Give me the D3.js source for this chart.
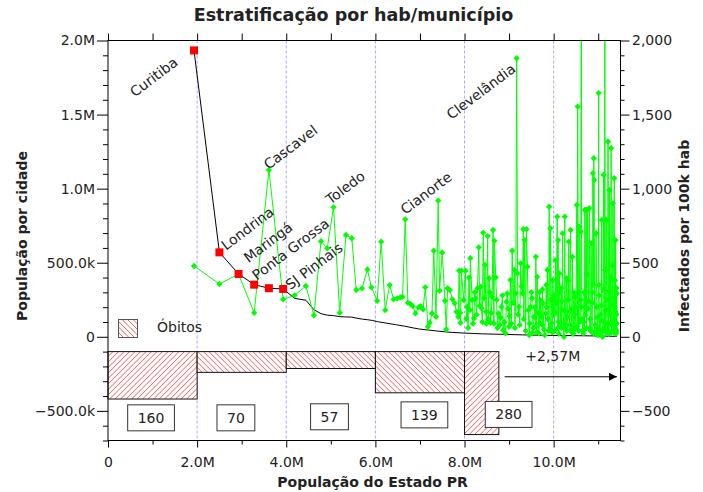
<!DOCTYPE html>
<html>
<head>
<meta charset="utf-8">
<script src="https://cdn.jsdelivr.net/npm/d3@7"></script>
<style>
  body { margin: 0; background: #fff; }
  text { font-family: "DejaVu Sans", sans-serif; fill: #222; }
</style>
</head>
<body>
<div id="chart"></div>
<script>
/********************** dados lidos do gráfico **********************/
// população acumulada (M) x população da cidade (k), cidades em ordem decrescente
var popCidade = [
  [1.93,1933],[2.50,570],[2.93,424],[3.28,352],[3.61,328],[3.93,323],[4.19,259],[4.44,247],
  [4.62,183],[4.78,156],[4.92,146],[5.06,143],[5.20,136],[5.33,134],[5.47,133],[5.59,125],
  [5.71,119],[5.83,115],[5.94,110],[6.05,102],[6.25,92],[6.45,82],[6.65,72],[6.85,60],
  [6.97,53],[7.2,45],[7.45,37],[7.7,30],[8.0,25],[8.4,20],[8.8,17],[9.3,13],[9.8,10],
  [10.4,8],[10.9,6],[11.42,3]
];
var nDestaques = 6;   // cidades com quadrado vermelho

// população acumulada (M) x infectados por 100k hab
var infectados = [
  [1.93,478],[2.50,356],[2.93,423],[3.28,162],[3.61,1126],[3.93,253],[4.19,280],[4.44,343],
  [4.62,145],[4.78,645],[4.92,597],[5.06,874],[5.20,162],[5.34,687],[5.47,665],[5.57,316],
  [5.70,327],[5.82,455],[5.91,334],[6.04,243],[6.13,642],[6.22,180],[6.32,349],[6.41,253],
  [6.49,259],[6.56,266],[6.61,270],[6.67,793],[6.73,230],[6.79,221],[6.84,207],[6.90,158],
  [6.97,199],[7.01,207],[7.07,185],[7.12,334],[7.18,68],[7.22,95],[7.27,158],[7.31,581],
  [7.36,135],[7.41,919],[7.44,311],[7.50,568],[7.56,243],[7.59,50],[7.62,327],[7.67,316],
  [7.73,253],[7.78,226],[7.82,169],[7.86,135],[7.88,446],[7.90,162],[7.91,95],[7.93,446],
  [7.98,248],[8.02,446],[8.04,120],[8.06,203],[8.08,60],[8.10,401],[8.12,180],[8.13,530],
  [8.17,248],[8.19,90],[8.21,124],[8.23,300],[8.25,259],[8.27,150],[8.29,327],[8.32,604],
  [8.34,210],[8.36,338],[8.38,192],[8.40,100],[8.42,703],[8.44,260],[8.46,485],[8.48,170],
  [8.49,90],[8.52,680],[8.53,120],[8.55,395],[8.57,300],[8.58,95],[8.60,160],[8.62,270],
  [8.64,721],[8.66,90],[8.67,649],[8.70,401],[8.72,250],[8.74,60],[8.76,158],[8.79,79],
  [8.81,130],[8.83,203],[8.85,280],[8.87,45],[8.89,100],[8.92,23],[8.94,236],[8.96,293],
  [8.98,190],[9.00,68],[9.01,140],[9.03,383],[9.05,90],[9.07,581],[9.09,230],[9.12,451],
  [9.13,60],[9.15,293],[9.17,1881],[9.19,428],[9.20,150],[9.22,203],[9.24,80],[9.26,496],
  [9.28,340],[9.30,293],[9.32,726],[9.33,120],[9.35,653],[9.37,40],[9.39,726],[9.41,473],
  [9.43,180],[9.45,11],[9.46,90],[9.48,203],[9.50,300],[9.52,27],[9.54,60],[9.56,135],
  [9.58,200],[9.60,540],[9.62,30],[9.63,405],[9.65,160],[9.67,23],[9.69,90],[9.71,248],
  [9.73,135],[9.75,320],[9.76,226],[9.78,50],[9.80,11],[9.82,158],[9.84,200],[9.86,451],
  [9.90,878],[9.92,60],[9.93,732],[9.95,250],[9.96,90],[9.98,383],[10.00,150],[10.02,40],
  [10.04,518],[10.06,230],[10.08,811],[10.10,653],[10.11,100],[10.13,428],[10.14,300],
  [10.16,90],[10.18,60],[10.20,698],[10.21,180],[10.23,0],[10.25,811],[10.27,120],[10.29,395],
  [10.30,40],[10.31,135],[10.33,250],[10.34,642],[10.36,80],[10.38,721],[10.40,190],
  [10.42,540],[10.44,20],[10.46,45],[10.47,150],[10.48,270],[10.50,60],[10.52,890],
  [10.54,1554],[10.55,300],[10.57,743],[10.59,100],[10.61,709],[10.62,2500],[10.63,200],
  [10.65,40],[10.67,23],[10.68,300],[10.70,856],[10.72,150],[10.73,856],[10.74,60],
  [10.76,856],[10.78,240],[10.80,868],[10.82,120],[10.84,631],[10.86,30],[10.88,1104],
  [10.89,350],[10.90,1205],[10.91,1059],[10.93,80],[10.95,699],[10.97,200],[10.99,11],
  [11.00,60],[11.01,1645],[11.02,280],[11.04,23],[11.06,150],[11.08,789],[11.09,40],
  [11.10,0],[11.11,320],[11.12,1093],[11.13,100],[11.15,2600],[11.16,30],[11.18,789],
  [11.19,250],[11.20,60],[11.22,1318],[11.23,180],[11.24,20],[11.25,991],[11.27,400],
  [11.28,90],[11.29,1273],[11.31,40],[11.32,260],[11.33,901],[11.34,120],[11.35,30],
  [11.36,1070],[11.37,200],[11.38,60],[11.39,653],[11.40,45],[11.41,150],[11.42,293],
  // pontos baixos extras da parte densa do final
  [9.87,120],[9.97,30],[10.05,160],[10.12,20],[10.19,240],[10.26,60],[10.35,170],[10.41,30],
  [10.49,200],[10.56,40],[10.64,120],[10.69,50],[10.77,190],[10.83,40],[10.87,230],[10.92,20],
  [10.98,130],[11.03,50],[11.07,210],[11.14,60],[11.17,180],[11.21,30],[11.26,150],[11.30,80],
  [11.335,220],[11.365,40],[11.385,170],[11.405,30],[11.415,90],
  [9.515,260],[9.595,70],[9.685,300],[9.745,80],[9.835,350],[9.885,40],[10.015,280],[10.095,60],
  [10.175,330],[10.245,90],[10.325,380],[10.395,50],[10.455,300],[10.535,70],[10.605,250],
  [10.675,100],[10.745,420],[10.815,60],[10.875,300],[10.945,40],[11.015,350],[11.085,110],
  [11.155,450],[11.215,90],[11.255,310],[11.295,30],[11.325,480],[11.355,100],[11.375,380],
  [11.395,20],[11.412,330]
];

// nomes das cidades e posição do rótulo (M, M no eixo esquerdo)
var cidadeNomes  = ["Curitiba","Londrina","Maringá","Ponta Grossa","Cascavel","SJ Pinhais","Toledo","Cianorte","Clevelândia"];
var cidadeLabelX = [0.60, 2.65, 3.15, 3.34, 3.60, 4.09, 4.99, 6.67, 7.70];
var cidadeLabelY = [1.615, 0.581, 0.496, 0.378, 1.126, 0.315, 0.890, 0.822, 1.463];

// óbitos por faixa de população do estado
var faixaInicio = [0, 2e6, 4e6, 6e6, 8e6];
var faixaFim    = [2e6, 4e6, 6e6, 8e6, 8.77e6];
var obitos      = [160, 70, 57, 139, 280];
var hachura     = ["/", "\\", "\\", "\\", "/"];
var obitoLabelX = [0.966e6, 2.87e6, 4.97e6, 7.10e6, 8.99e6];
var obitoLabelY = [-547e3, -547e3, -540e3, -527e3, -524e3];
var restante    = "+2,57M";

// eixos
var xTicks  = [0, 2e6, 4e6, 6e6, 8e6, 10e6];
var xLabels = ["0","2.0M","4.0M","6.0M","8.0M","10.0M"];
var yLeftTicks  = [-500e3, 0, 500e3, 1e6, 1.5e6, 2e6];
var yLeftLabels = ["\u2212500.0k","0","500.0k","1.0M","1.5M","2.0M"];
var yRightTicks  = [-500, 0, 500, 1000, 1500, 2000];
var yRightLabels = ["\u2212500","0","500","1,000","1,500","2,000"];
var divisorias = [2e6, 4e6, 6e6, 8e6, 10e6];

/********************** desenho **********************/
var W = 703, H = 492;
var M = {left: 108, right: 620.5, top: 40.5, bottom: 440.5};
var obitoBase = -100e3, obitoEscala = 2000;

var svg = d3.select("#chart").append("svg")
    .attr("width", W).attr("height", H)
    .style("background", "#fff");

var x  = d3.scaleLinear().domain([0, 11.5e6]).range([M.left, M.right]);
var yL = d3.scaleLinear().domain([-700e3, 2e6]).range([M.bottom, M.top]);
var yR = d3.scaleLinear().domain([-700, 2000]).range([M.bottom, M.top]);

var defs = svg.append("defs");
defs.append("clipPath").attr("id", "area")
  .append("rect").attr("x", M.left).attr("y", M.top)
  .attr("width", M.right - M.left).attr("height", M.bottom - M.top);

// hachura desenhada com linhas recortadas pelo retângulo
function hachurado(parent, id, x0, y0, w, h, dir, borda) {
  defs.append("clipPath").attr("id", id)
    .append("rect").attr("x", x0).attr("y", y0).attr("width", w).attr("height", h);
  var g = parent.append("g").attr("clip-path", "url(#" + id + ")");
  g.append("rect").attr("x", x0).attr("y", y0).attr("width", w).attr("height", h).attr("fill", "#fff");
  var passos = d3.range(-h - 6, w + 6, 5.5);
  g.selectAll("line").data(passos).enter().append("line")
    .attr("x1", function(k) { return x0 + k; })
    .attr("x2", function(k) { return x0 + k + h; })
    .attr("y1", dir == "/" ? y0 + h : y0)
    .attr("y2", dir == "/" ? y0 : y0 + h)
    .attr("stroke", "#ff3030").attr("stroke-width", 0.8);
  parent.append("rect").attr("x", x0).attr("y", y0).attr("width", w).attr("height", h)
    .attr("fill", "none").attr("stroke", borda).attr("stroke-width", 1);
}

// linhas verticais tracejadas
svg.append("g").selectAll("line").data(divisorias).enter().append("line")
  .attr("x1", x).attr("x2", x).attr("y1", M.top).attr("y2", M.bottom)
  .attr("stroke", "#a8a8ff").attr("stroke-width", 1).attr("stroke-dasharray", "3,2");

// barras de óbitos
var gBarras = svg.append("g");
obitos.forEach(function(d, i) {
  var x0 = x(faixaInicio[i]), x1 = x(faixaFim[i]);
  var y0 = yL(obitoBase), y1 = yL(obitoBase - d * obitoEscala);
  hachurado(gBarras, "barra" + i, x0, y0, x1 - x0, y1 - y0, hachura[i], "#111");
});

// caixas com número de óbitos
var caixas = svg.append("g").selectAll("g").data(obitos).enter().append("g");
caixas.append("text")
  .attr("x", function(d, i) { return x(obitoLabelX[i]); })
  .attr("y", function(d, i) { return yL(obitoLabelY[i]); })
  .attr("text-anchor", "middle").attr("dominant-baseline", "central")
  .style("font-size", "14px")
  .text(function(d) { return d; });
caixas.each(function() {
  var g = d3.select(this), b = g.select("text").node().getBBox();
  g.insert("rect", "text")
    .attr("x", b.x - 10).attr("y", b.y - 5)
    .attr("width", b.width + 20).attr("height", b.height + 10)
    .attr("fill", "#fff").attr("stroke", "#333").attr("stroke-width", 1);
});

// seta do restante da população
defs.append("marker").attr("id", "seta").attr("viewBox", "0 0 10 10")
  .attr("refX", 10).attr("refY", 5).attr("markerWidth", 8).attr("markerHeight", 8)
  .attr("orient", "auto").attr("markerUnits", "userSpaceOnUse")
  .append("path").attr("d", "M0,0 L10,5 L0,10 z").attr("fill", "#000");
svg.append("line")
  .attr("x1", x(8.9e6)).attr("x2", x(11.42e6))
  .attr("y1", yL(-270e3)).attr("y2", yL(-270e3))
  .attr("stroke", "#000").attr("stroke-width", 1).attr("marker-end", "url(#seta)");
svg.append("text")
  .attr("x", x(9.98e6)).attr("y", yL(-162e3))
  .attr("text-anchor", "middle").style("font-size", "14px")
  .text(restante);

// linha preta: população por cidade
var linhaPop = d3.line()
  .x(function(d) { return x(d[0] * 1e6); })
  .y(function(d) { return yL(d[1] * 1e3); });
svg.append("path").datum(popCidade)
  .attr("d", linhaPop).attr("fill", "none")
  .attr("stroke", "#000").attr("stroke-width", 1);

// linha verde: infectados por 100k hab
var infOrdenado = d3.sort(infectados, function(d) { return d[0]; });
var linhaInf = d3.line()
  .x(function(d) { return x(d[0] * 1e6); })
  .y(function(d) { return yR(d[1]); });
var gInf = svg.append("g").attr("clip-path", "url(#area)");
gInf.append("path").datum(infOrdenado)
  .attr("d", linhaInf).attr("fill", "none")
  .attr("stroke", "#00ff00").attr("stroke-width", 1);
gInf.selectAll("path.m").data(infOrdenado).enter().append("path")
  .attr("class", "m")
  .attr("d", d3.symbol().type(d3.symbolSquare).size(20))
  .attr("transform", function(d) {
    return "translate(" + x(d[0] * 1e6) + "," + yR(d[1]) + ") rotate(45)";
  })
  .attr("fill", "#00ff00");

// quadrados vermelhos nas maiores cidades
svg.append("g").selectAll("rect").data(popCidade.slice(0, nDestaques)).enter().append("rect")
  .attr("x", function(d) { return x(d[0] * 1e6) - 4; })
  .attr("y", function(d) { return yL(d[1] * 1e3) - 4; })
  .attr("width", 8).attr("height", 8).attr("fill", "#ff0000");

// nomes das cidades
svg.append("g").selectAll("text").data(cidadeNomes).enter().append("text")
  .attr("transform", function(d, i) {
    return "translate(" + x(cidadeLabelX[i] * 1e6) + "," + yL(cidadeLabelY[i] * 1e6) + ") rotate(-37)";
  })
  .style("font-size", "14px")
  .text(function(d) { return d; });

// legenda
hachurado(svg, "legenda", 118.5, 319.5, 19, 18, "\\", "#555");
svg.append("text").attr("x", 157).attr("y", 332).style("font-size", "14px").text("Óbitos");

// moldura
svg.append("rect").attr("x", M.left).attr("y", M.top)
  .attr("width", M.right - M.left).attr("height", M.bottom - M.top)
  .attr("fill", "none").attr("stroke", "#000").attr("stroke-width", 1);

function estilo(g) {
  g.select(".domain").remove();
  g.selectAll("line").attr("stroke", "#000");
  g.selectAll("text").style("font-size", "14px").attr("fill", "#222").style("font-family", "DejaVu Sans");
}

// eixo x (embaixo)
svg.append("g").attr("transform", "translate(0," + M.bottom + ")")
  .call(d3.axisBottom(x).tickValues(d3.range(1e6, 11.5e6, 2e6)).tickFormat("").tickSize(4))
  .call(estilo);
svg.append("g").attr("transform", "translate(0," + M.bottom + ")")
  .call(d3.axisBottom(x).tickValues(xTicks).tickFormat(function(d, i) { return xLabels[i]; })
        .tickSize(7).tickPadding(10))
  .call(estilo);
// marcas no topo
svg.append("g").attr("transform", "translate(0," + M.top + ")")
  .call(d3.axisTop(x).tickValues(d3.range(0, 11.5e6, 1e6)).tickFormat("").tickSize(7))
  .call(estilo);

// eixo esquerdo
var menoresL = d3.range(-700e3, 2.0001e6, 100e3).filter(function(v) { return Math.round(v) % 500000 != 0; });
svg.append("g").attr("transform", "translate(" + M.left + ",0)")
  .call(d3.axisLeft(yL).tickValues(menoresL).tickFormat("").tickSize(5))
  .call(estilo);
svg.append("g").attr("transform", "translate(" + M.left + ",0)")
  .call(d3.axisLeft(yL).tickValues(yLeftTicks).tickFormat(function(d, i) { return yLeftLabels[i]; })
        .tickSize(11).tickPadding(2))
  .call(estilo);

// eixo direito
var menoresR = d3.range(-700, 2001, 100).filter(function(v) { return v % 500 != 0; });
svg.append("g").attr("transform", "translate(" + M.right + ",0)")
  .call(d3.axisRight(yR).tickValues(menoresR).tickFormat("").tickSize(4))
  .call(estilo);
svg.append("g").attr("transform", "translate(" + M.right + ",0)")
  .call(d3.axisRight(yR).tickValues(yRightTicks).tickFormat(function(d, i) { return yRightLabels[i]; })
        .tickSize(9).tickPadding(2.5))
  .call(estilo);

// títulos
svg.append("text").attr("x", 353.5).attr("y", 21)
  .attr("text-anchor", "middle").style("font-size", "17.5px").style("font-weight", "bold")
  .attr("fill", "#000").text("Estratificação por hab/município");
svg.append("text").attr("x", 372.5).attr("y", 486.5)
  .attr("text-anchor", "middle").style("font-size", "14px").style("font-weight", "bold")
  .attr("fill", "#000").text("População do Estado PR");
svg.append("text").attr("transform", "translate(27,236) rotate(-90)")
  .attr("text-anchor", "middle").style("font-size", "14px").style("font-weight", "bold")
  .attr("fill", "#000").text("População por cidade");
svg.append("text").attr("transform", "translate(689,236) rotate(-90)")
  .attr("text-anchor", "middle").style("font-size", "14px").style("font-weight", "bold")
  .attr("fill", "#000").text("Infectados por 100k hab");
</script>
</body>
</html>
